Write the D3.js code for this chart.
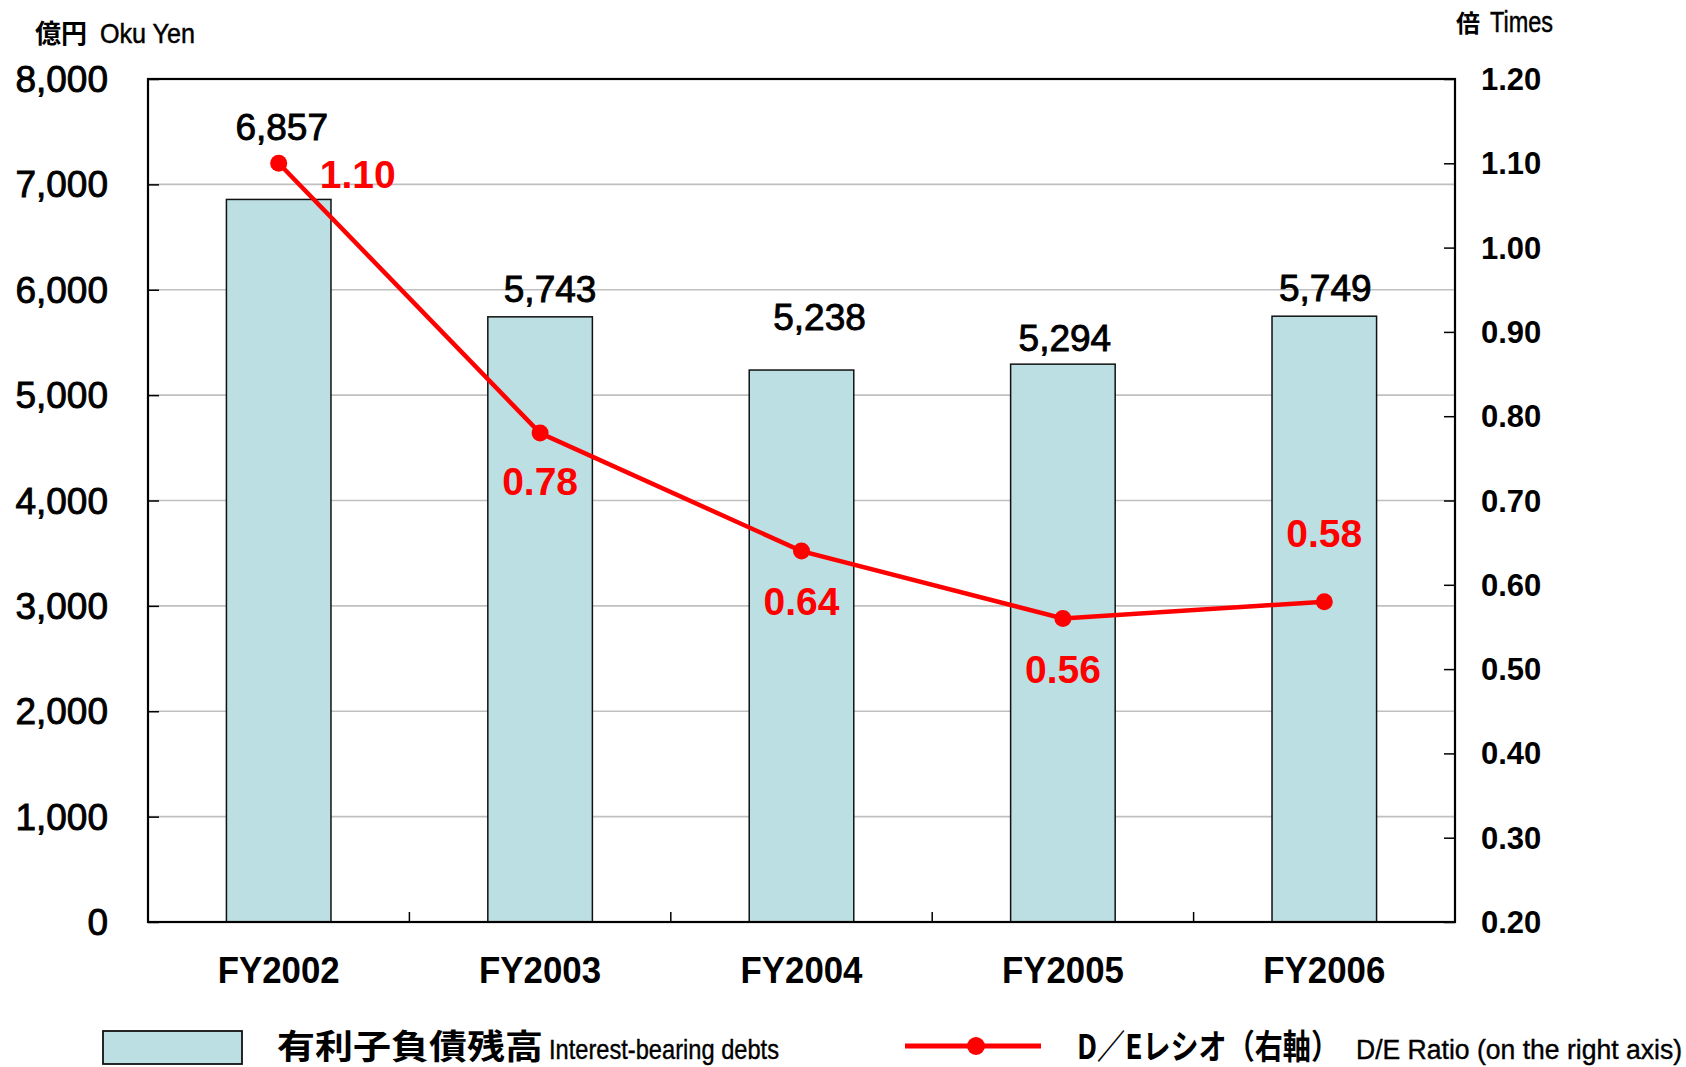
<!DOCTYPE html>
<html>
<head>
<meta charset="utf-8">
<script src="https://cdn.jsdelivr.net/npm/d3@7"></script>
<style>
  html, body { margin: 0; padding: 0; background: #fff; }
  svg { display: block; }
  text { font-family: "Liberation Sans", Arial, sans-serif; }
  .cjk { font-family: "Noto Sans CJK JP", "Liberation Sans", sans-serif; }
</style>
</head>
<body>
<script>
// Data
const years      = ['FY2002', 'FY2003', 'FY2004', 'FY2005', 'FY2006']
const debts      = [6857, 5743, 5238, 5294, 5749]
const deRatio    = [1.10, 0.78, 0.64, 0.56, 0.58]
const leftTicks  = [0, 1000, 2000, 3000, 4000, 5000, 6000, 7000, 8000]
const rightTicks = [0.2, 0.3, 0.4, 0.5, 0.6, 0.7, 0.8, 0.9, 1.0, 1.1, 1.2]

// Label nudges (px)
const debtLabelDx  = [3, 10, 18, 2, 1]
const debtLabelDy  = [-59, -15, -40, -13, -15]
const ratioLabelDx = [79, 0, 0, 0, 0]
const ratioLabelDy = [25, 62, 64, 64, -55]

// Sizes
var width  = 1686
var height = 1067
var plot   = {left: 148, right: 1455, top: 79, bottom: 922}

let svg = d3.select('body')
            .append('svg')
            .attr('width', width)
            .attr('height', height)

// Scales
var x = d3.scaleBand()
          .domain(years)
          .range([plot.left, plot.right])
          .paddingInner(0.6)
          .paddingOuter(0.3)
var yL = d3.scaleLinear().domain([0, 8000]).range([plot.bottom, plot.top])
var yR = d3.scaleLinear().domain([0.2, 1.2]).range([plot.bottom, plot.top])
var step = (plot.right - plot.left) / years.length

// Grid lines
svg.append('g')
   .selectAll('line')
   .data(leftTicks.slice(1, -1))
   .enter()
   .append('line')
   .attr('x1', plot.left).attr('x2', plot.right)
   .attr('y1', d => yL(d)).attr('y2', d => yL(d))
   .attr('stroke', '#c0c0c0')
   .attr('stroke-width', 1.6)

// Bars
svg.append('g')
   .selectAll('rect')
   .data(debts)
   .enter()
   .append('rect')
   .attr('x', (d, i) => x(years[i]))
   .attr('y', d => yL(d))
   .attr('width', x.bandwidth())
   .attr('height', d => yL(0) - yL(d))
   .attr('fill', '#bbdfe2')
   .attr('stroke', '#111')
   .attr('stroke-width', 1.5)

// Left axis
let axL = svg.append('g')
             .attr('transform', 'translate(' + plot.left + ',0)')
             .call(d3.axisRight(yL).tickValues(leftTicks).tickSize(11).tickFormat(''))
axL.select('.domain').remove()
axL.selectAll('line').attr('stroke', '#000').attr('stroke-width', 1.5)
svg.append('g')
   .selectAll('text')
   .data(leftTicks)
   .enter()
   .append('text')
   .attr('x', 108)
   .attr('y', d => yL(d) + 13)
   .attr('text-anchor', 'end')
   .attr('font-size', 37)
   .attr('fill', '#000')
   .attr('stroke', '#000')
   .attr('stroke-width', 0.9)
   .text(d => d3.format(',')(d))

// Right axis
let axR = svg.append('g')
             .attr('transform', 'translate(' + plot.right + ',0)')
             .call(d3.axisLeft(yR).tickValues(rightTicks).tickSize(11).tickFormat(''))
axR.select('.domain').remove()
axR.selectAll('line').attr('stroke', '#000').attr('stroke-width', 1.5)
svg.append('g')
   .selectAll('text')
   .data(rightTicks)
   .enter()
   .append('text')
   .attr('x', 1481)
   .attr('y', d => yR(d) + 11)
   .attr('font-size', 31)
   .attr('font-weight', 'bold')
   .attr('fill', '#000')
   .text(d => d3.format('.2f')(d))

// Category boundary ticks
svg.append('g')
   .selectAll('line')
   .data(years.slice(1))
   .enter()
   .append('line')
   .attr('x1', (d, i) => plot.left + step * (i + 1))
   .attr('x2', (d, i) => plot.left + step * (i + 1))
   .attr('y1', plot.bottom).attr('y2', plot.bottom - 10)
   .attr('stroke', '#000').attr('stroke-width', 1.5)

// Plot frame
svg.append('rect')
   .attr('x', plot.left).attr('y', plot.top)
   .attr('width', plot.right - plot.left)
   .attr('height', plot.bottom - plot.top)
   .attr('fill', 'none')
   .attr('stroke', '#000')
   .attr('stroke-width', 2.2)

// Category labels
svg.append('g')
   .selectAll('text')
   .data(years)
   .enter()
   .append('text')
   .attr('x', d => x(d) + x.bandwidth() / 2)
   .attr('y', 983)
   .attr('text-anchor', 'middle')
   .attr('font-size', 37)
   .attr('font-weight', 'bold')
   .attr('fill', '#000')
   .attr('textLength', 122).attr('lengthAdjust', 'spacingAndGlyphs')
   .text(d => d)

// Bar value labels
svg.append('g')
   .selectAll('text')
   .data(debts)
   .enter()
   .append('text')
   .attr('x', (d, i) => x(years[i]) + x.bandwidth() / 2 + debtLabelDx[i])
   .attr('y', (d, i) => yL(d) + debtLabelDy[i])
   .attr('text-anchor', 'middle')
   .attr('font-size', 37)
   .attr('fill', '#000')
   .attr('stroke', '#000')
   .attr('stroke-width', 0.9)
   .text(d => d3.format(',')(d))

// D/E line
let line = d3.line()
             .x((d, i) => x(years[i]) + x.bandwidth() / 2)
             .y(d => yR(d))
svg.append('path')
   .datum(deRatio)
   .attr('d', line)
   .attr('fill', 'none')
   .attr('stroke', '#ff0000')
   .attr('stroke-width', 4.5)
svg.append('g')
   .selectAll('circle')
   .data(deRatio)
   .enter()
   .append('circle')
   .attr('cx', (d, i) => x(years[i]) + x.bandwidth() / 2)
   .attr('cy', d => yR(d))
   .attr('r', 8.5)
   .attr('fill', '#ff0000')
svg.append('g')
   .selectAll('text')
   .data(deRatio)
   .enter()
   .append('text')
   .attr('x', (d, i) => x(years[i]) + x.bandwidth() / 2 + ratioLabelDx[i])
   .attr('y', (d, i) => yR(d) + ratioLabelDy[i])
   .attr('text-anchor', 'middle')
   .attr('font-size', 39)
   .attr('font-weight', 'bold')
   .attr('fill', '#ff0000')
   .text(d => d3.format('.2f')(d))

// Axis titles
svg.append('text').attr('class', 'cjk')
   .attr('x', 35).attr('y', 43)
   .attr('font-size', 26).attr('font-weight', 'bold')
   .text('億円')
svg.append('text')
   .attr('x', 100).attr('y', 43)
   .attr('font-size', 28)
   .attr('stroke', '#000').attr('stroke-width', 0.5)
   .attr('textLength', 95).attr('lengthAdjust', 'spacingAndGlyphs')
   .text('Oku Yen')
svg.append('text').attr('class', 'cjk')
   .attr('x', 1456).attr('y', 32)
   .attr('font-size', 24).attr('font-weight', 'bold')
   .text('倍')
svg.append('text')
   .attr('x', 1490).attr('y', 32)
   .attr('font-size', 29)
   .attr('stroke', '#000').attr('stroke-width', 0.5)
   .attr('textLength', 63).attr('lengthAdjust', 'spacingAndGlyphs')
   .text('Times')

// Legend
let legend = svg.append('g')
legend.append('rect')
      .attr('x', 103).attr('y', 1031)
      .attr('width', 139).attr('height', 33)
      .attr('fill', '#bbdfe2')
      .attr('stroke', '#111')
      .attr('stroke-width', 1.8)
legend.append('text').attr('class', 'cjk')
      .attr('x', 277).attr('y', 1059)
      .attr('font-size', 34).attr('font-weight', 'bold')
      .attr('textLength', 266).attr('lengthAdjust', 'spacingAndGlyphs')
      .text('有利子負債残高')
legend.append('text')
      .attr('x', 549).attr('y', 1059)
      .attr('font-size', 28)
      .attr('stroke', '#000').attr('stroke-width', 0.4)
      .attr('textLength', 230).attr('lengthAdjust', 'spacingAndGlyphs')
      .text('Interest-bearing debts')
legend.append('line')
      .attr('x1', 905).attr('x2', 1041)
      .attr('y1', 1046).attr('y2', 1046)
      .attr('stroke', '#ff0000').attr('stroke-width', 5)
legend.append('circle')
      .attr('cx', 976).attr('cy', 1046).attr('r', 9)
      .attr('fill', '#ff0000')
legend.append('text').attr('class', 'cjk')
      .attr('x', 1077).attr('y', 1059)
      .attr('font-size', 34).attr('font-weight', 'bold')
      .attr('textLength', 262).attr('lengthAdjust', 'spacingAndGlyphs')
      .text('D／Eレシオ（右軸）')
legend.append('text')
      .attr('x', 1356).attr('y', 1059)
      .attr('font-size', 27)
      .attr('stroke', '#000').attr('stroke-width', 0.4)
      .attr('textLength', 326).attr('lengthAdjust', 'spacingAndGlyphs')
      .text('D/E Ratio (on the right axis)')
</script>
</body>
</html>
